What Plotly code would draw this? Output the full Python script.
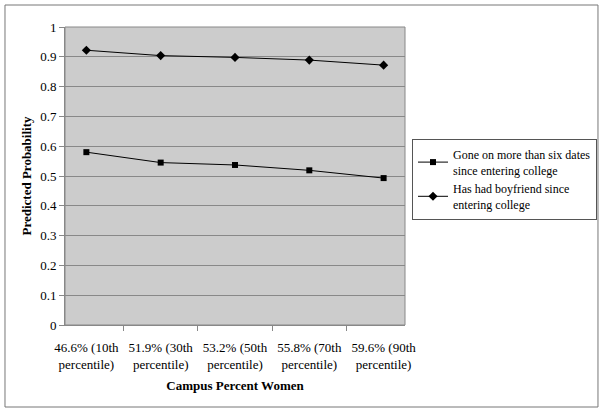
import plotly.graph_objects as go

categories = ["46.6% (10th<br>percentile)", "51.9% (30th<br>percentile)", "53.2% (50th<br>percentile)",
              "55.8% (70th<br>percentile)", "59.6% (90th<br>percentile)"]
dates_vals = [0.580, 0.545, 0.537, 0.519, 0.493]
boyfriend_vals = [0.922, 0.904, 0.898, 0.889, 0.872]
series_names = ["Gone on more than six dates<br>since entering college",
                "Has had boyfriend since<br>entering college"]
y_ticks = [0, 0.1, 0.2, 0.3, 0.4, 0.5, 0.6, 0.7, 0.8, 0.9, 1]

FONT = "Liberation Serif"

fig = go.Figure()
fig.add_trace(go.Scatter(x=categories, y=dates_vals, name=series_names[0], mode="lines+markers",
                         line=dict(color="black", width=1),
                         marker=dict(symbol="square", size=6, color="black")))
fig.add_trace(go.Scatter(x=categories, y=boyfriend_vals, name=series_names[1], mode="lines+markers",
                         line=dict(color="black", width=1),
                         marker=dict(symbol="diamond", size=7, color="black")))

fig.update_layout(
    width=604, height=413,
    margin=dict(l=65, r=199, t=27, b=88, autoexpand=False),
    paper_bgcolor="white",
    plot_bgcolor="#CCCCCC",
    font=dict(family=FONT, size=13, color="black"),
    showlegend=True,
    legend=dict(xref="container", yref="container", x=412/604, y=1 - 139/413,
                xanchor="left", yanchor="top",
                bordercolor="#555555", borderwidth=1, bgcolor="white",
                font=dict(family=FONT, size=12), itemwidth=30),
    xaxis=dict(type="category", tickson="boundaries", ticks="outside", ticklen=5, tickangle=0,
               ticklabelstandoff=10,
               tickcolor="#888888", showline=True, linecolor="#888888", linewidth=1,
               showgrid=False, tickfont=dict(family=FONT, size=13),
               title=dict(text="<b>Campus Percent Women</b>", font=dict(family=FONT, size=13), standoff=10)),
    yaxis=dict(range=[0, 1], tickvals=y_ticks, ticktext=[str(v) for v in y_ticks],
               ticks="outside", ticklen=5, tickcolor="#888888",
               showline=True, linecolor="#888888", linewidth=1,
               showgrid=True, gridcolor="#888888", gridwidth=1, zeroline=False,
               tickfont=dict(family=FONT, size=13),
               title=dict(text="<b>Predicted Probability</b>", font=dict(family=FONT, size=13), standoff=5)),
    shapes=[dict(type="rect", xref="paper", yref="paper", x0=-0.1765, x1=1.5676, y0=-0.2752, y1=1.0738,
                 line=dict(color="#777777", width=1), fillcolor="rgba(0,0,0,0)", layer="below"),
            dict(type="rect", xref="paper", yref="paper", x0=0, x1=1, y0=0, y1=1,
                 line=dict(color="#888888", width=1), fillcolor="rgba(0,0,0,0)")]
)

fig.write_html("out.html", config={"displayModeBar": False},
               post_script="document.body.style.margin='0';")
